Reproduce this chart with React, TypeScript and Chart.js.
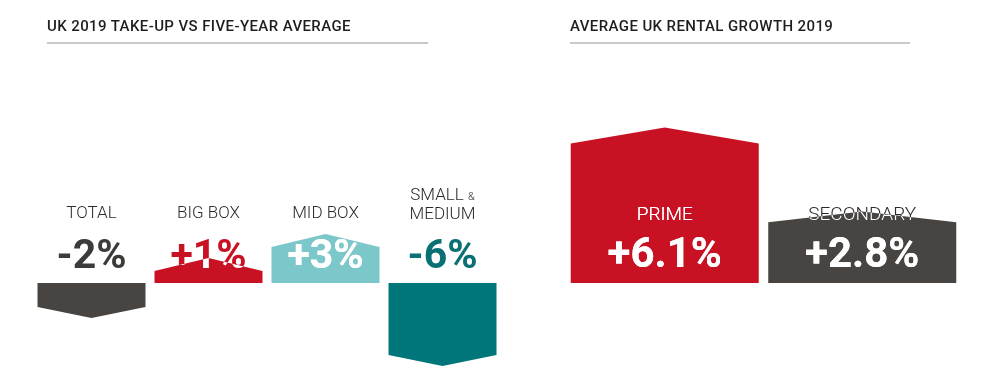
import React, { useEffect, useRef } from "react";
import { Chart, registerables } from "chart.js";

Chart.register(...registerables);

// ---- data ----
const takeUpCategories = ["TOTAL", "BIG BOX", "MID BOX", "SMALL & MEDIUM"];
const takeUpValues = [-2, 1, 3, -6];
const takeUpLabels = ["-2%", "+1%", "+3%", "-6%"];
const takeUpColors = ["#474441", "#c81223", "#7bc7c9", "#00767a"];
const takeUpTextColors = ["#3d3b39", "#c81223", "#ffffff", "#0a7074"];

const rentalCategories = ["PRIME", "SECONDARY"];
const rentalValues = [6.1, 2.8];
const rentalLabels = ["+6.1%", "+2.8%"];
const rentalColors = ["#c81223", "#474441"];
const rentalNameColors = ["#ffffff", "#2a2a2a"];

const FONT = "Roboto, 'DejaVu Sans', sans-serif";

type Pt = [number, number];

function shapeFor(el: any, mode: "side" | "peak"): Pt[] {
  const half = el.width / 2;
  const l = el.x - half;
  const r = el.x + half;
  const base = el.base;
  const y = el.y;
  const up = y < base;
  const h = Math.abs(base - y);
  if (mode === "side") {
    const roof = up ? 13 : 11;
    const tip = up ? y - roof : y + roof;
    return [[l, base], [l, y], [el.x, tip], [r, y], [r, base]];
  }
  const roof = 6 + 0.065 * h;
  const side = up ? y + roof : y - roof;
  return [[l, base], [l, side], [el.x, y], [r, side], [r, base]];
}

function pathPoly(ctx: CanvasRenderingContext2D, pts: Pt[]) {
  ctx.beginPath();
  pts.forEach((p, i) => (i === 0 ? ctx.moveTo(p[0], p[1]) : ctx.lineTo(p[0], p[1])));
  ctx.closePath();
}

function knockText(
  ctx: CanvasRenderingContext2D,
  text: string,
  x: number,
  y: number,
  font: string,
  color: string,
  poly: Pt[]
) {
  ctx.save();
  ctx.font = font;
  ctx.textAlign = "center";
  ctx.textBaseline = "alphabetic";
  ctx.fillStyle = color;
  ctx.fillText(text, x, y);
  pathPoly(ctx, poly);
  ctx.clip();
  ctx.fillStyle = "#ffffff";
  ctx.fillText(text, x, y);
  ctx.restore();
}

const takeUpPlugin = {
  id: "takeUpShapes",
  afterDatasetsDraw(chart: any) {
    const ctx: CanvasRenderingContext2D = chart.ctx;
    const meta = chart.getDatasetMeta(0);
    meta.data.forEach((el: any, i: number) => {
      const poly = shapeFor(el, "side");
      ctx.save();
      ctx.fillStyle = takeUpColors[i];
      pathPoly(ctx, poly);
      ctx.fill();
      ctx.restore();
      // category name
      ctx.save();
      ctx.fillStyle = "#2b2b2b";
      ctx.textAlign = "center";
      const name = takeUpCategories[i];
      if (name.includes("&")) {
        const [a] = name.split(" & ");
        ctx.font = `300 17px ${FONT}`;
        const wA = ctx.measureText(a + " ").width;
        ctx.font = `300 11px ${FONT}`;
        const wAmp = ctx.measureText("&").width;
        const start = el.x - (wA + wAmp) / 2;
        ctx.textAlign = "left";
        ctx.font = `300 17px ${FONT}`;
        ctx.fillText(a + " ", start, 200);
        ctx.font = `300 11px ${FONT}`;
        ctx.fillText("&", start + wA, 200);
        ctx.textAlign = "center";
        ctx.font = `300 17px ${FONT}`;
        ctx.fillText("MEDIUM", el.x, 219);
      } else {
        ctx.font = `300 17px ${FONT}`;
        ctx.fillText(name, el.x, 218);
      }
      ctx.restore();
      knockText(ctx, takeUpLabels[i], el.x, 268, `bold 41px ${FONT}`, takeUpTextColors[i], poly);
    });
  },
};

const rentalPlugin = {
  id: "rentalShapes",
  afterDatasetsDraw(chart: any) {
    const ctx: CanvasRenderingContext2D = chart.ctx;
    const meta = chart.getDatasetMeta(0);
    meta.data.forEach((el: any, i: number) => {
      const poly = shapeFor(el, "peak");
      ctx.save();
      ctx.fillStyle = rentalColors[i];
      pathPoly(ctx, poly);
      ctx.fill();
      ctx.restore();
      knockText(ctx, rentalCategories[i], el.x, 220, `300 19px ${FONT}`, rentalNameColors[i], poly);
      knockText(ctx, rentalLabels[i], el.x, 267, `bold 42px ${FONT}`, "#ffffff", poly);
    });
  },
};

function makeChart(
  canvas: HTMLCanvasElement,
  labels: string[],
  values: number[],
  yMin: number,
  yMax: number,
  padding: any,
  barPct: number,
  plugin: any
) {
  return new Chart(canvas, {
    type: "bar",
    data: {
      labels,
      datasets: [
        {
          data: values,
          backgroundColor: "rgba(0,0,0,0)",
          borderWidth: 0,
          categoryPercentage: 1,
          barPercentage: barPct,
        },
      ],
    },
    options: {
      animation: false,
      responsive: false,
      maintainAspectRatio: false,
      layout: { padding },
      plugins: { legend: { display: false }, tooltip: { enabled: false }, title: { display: false } },
      scales: {
        x: { display: false },
        y: { display: false, min: yMin, max: yMax },
      },
    },
    plugins: [plugin],
  });
}

export default function App() {
  const leftRef = useRef<HTMLCanvasElement>(null);
  const rightRef = useRef<HTMLCanvasElement>(null);

  useEffect(() => {
    // left: 0 at y=283, 12 px per unit
    const left = makeChart(
      leftRef.current!,
      takeUpCategories,
      takeUpValues,
      -7,
      20,
      { left: 33, right: 19, top: 43, bottom: 4 },
      0.923,
      takeUpPlugin
    );
    // right: 0 at y=283, 25.5 px per unit
    const right = makeChart(
      rightRef.current!,
      rentalCategories,
      rentalValues,
      0,
      8,
      { left: 26, right: 39, top: 79, bottom: 88 },
      0.952,
      rentalPlugin
    );
    return () => {
      left.destroy();
      right.destroy();
    };
  }, []);

  const titleStyle: React.CSSProperties = {
    position: "absolute",
    top: 17,
    fontFamily: FONT,
    fontWeight: 500,
    fontSize: 15,
    letterSpacing: 0.4,
    color: "#1e1e1e",
    lineHeight: "19px",
    paddingBottom: 6,
    borderBottom: "2px solid #c9c9c9",
    whiteSpace: "nowrap",
  };

  return (
    <div style={{ position: "fixed", left: 0, top: 0, width: 1000, height: 371, background: "#fff", overflow: "hidden" }}>
      <canvas ref={leftRef} width={520} height={371} style={{ position: "absolute", left: 0, top: 0 }} />
      <canvas ref={rightRef} width={460} height={371} style={{ position: "absolute", left: 540, top: 0 }} />
      <div style={{ ...titleStyle, left: 47, width: 381 }}>UK 2019 TAKE-UP VS FIVE-YEAR AVERAGE</div>
      <div style={{ ...titleStyle, left: 570, width: 340 }}>AVERAGE UK RENTAL GROWTH 2019</div>
    </div>
  );
}
